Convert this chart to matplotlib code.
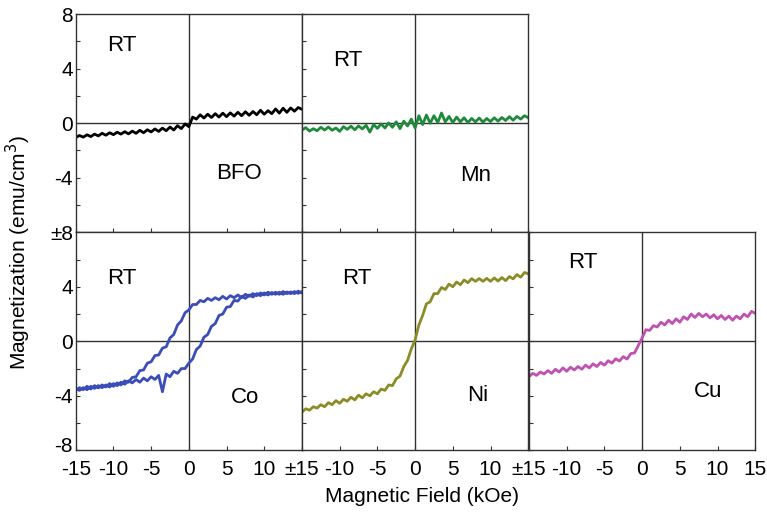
import matplotlib
matplotlib.use('Agg')
import matplotlib.pyplot as plt
from matplotlib.transforms import ScaledTranslation

plt.rcParams['font.family'] = ['Liberation Sans', 'DejaVu Sans']

# field sweep (kOe)
field = [-15.0, -14.5, -14.0, -13.5, -13.0, -12.5, -12.0, -11.5, -11.0, -10.5,
         -10.0, -9.5, -9.0, -8.5, -8.0, -7.5, -7.0, -6.5, -6.0, -5.5,
         -5.0, -4.5, -4.0, -3.5, -3.0, -2.5, -2.0, -1.5, -1.0, -0.5,
         0.0, 0.5, 1.0, 1.5, 2.0, 2.5, 3.0, 3.5, 4.0, 4.5,
         5.0, 5.5, 6.0, 6.5, 7.0, 7.5, 8.0, 8.5, 9.0, 9.5,
         10.0, 10.5, 11.0, 11.5, 12.0, 12.5, 13.0, 13.5, 14.0, 14.5, 15.0]

# magnetization (emu/cm^3)
m_bfo = [-1.05, -0.90, -1.02, -0.85, -0.98, -0.80, -0.93, -0.74, -0.88, -0.70,
         -0.84, -0.66, -0.80, -0.62, -0.78, -0.58, -0.74, -0.52, -0.70, -0.48,
         -0.64, -0.42, -0.60, -0.36, -0.55, -0.28, -0.50, -0.18, -0.40, -0.05,
         -0.25, 0.45, 0.30, 0.62, 0.38, 0.66, 0.42, 0.70, 0.45, 0.74,
         0.48, 0.76, 0.52, 0.80, 0.55, 0.84, 0.58, 0.86, 0.62, 0.95,
         0.66, 0.92, 0.70, 1.05, 0.74, 1.10, 0.80, 1.12, 0.88, 1.15, 1.02]

m_mn = [-0.50, -0.32, -0.58, -0.40, -0.55, -0.30, -0.50, -0.28, -0.52, -0.35,
        -0.60, -0.25, -0.45, -0.22, -0.48, -0.20, -0.42, -0.15, -0.65, -0.10,
        -0.38, -0.05, -0.35, 0.02, -0.30, 0.10, -0.40, 0.15, -0.20, 0.30,
        -0.35, 0.55, -0.10, 0.60, 0.00, 0.55, 0.05, 0.75, 0.10, 0.50,
        0.05, 0.45, 0.10, 0.40, 0.05, 0.35, 0.10, 0.38, 0.08, 0.35,
        0.12, 0.40, 0.15, 0.42, 0.20, 0.48, 0.22, 0.50, 0.30, 0.55, 0.40]

m_co_down = [-3.60, -3.40, -3.55, -3.30, -3.50, -3.25, -3.42, -3.20, -3.35, -3.10,
             -3.30, -3.05, -3.20, -2.90, -3.00, -2.65, -2.60, -2.15, -2.10, -1.60,
             -1.50, -1.05, -1.00, -0.50, -0.40, 0.25, 0.50, 1.20, 1.50, 2.10,
             2.30, 2.70, 2.70, 3.00, 2.90, 3.15, 3.00, 3.20, 3.05, 3.30,
             3.10, 3.35, 3.20, 3.40, 3.20, 3.45, 3.30, 3.50, 3.35, 3.55,
             3.40, 3.60, 3.45, 3.60, 3.45, 3.65, 3.50, 3.62, 3.50, 3.68, 3.55]

m_co_up = [-3.45, -3.60, -3.40, -3.55, -3.30, -3.45, -3.25, -3.40, -3.20, -3.35,
           -3.10, -3.25, -3.00, -3.15, -2.90, -3.05, -2.80, -3.00, -2.70, -2.90,
           -2.60, -2.80, -2.50, -3.70, -2.40, -2.60, -2.20, -2.35, -2.00, -2.00,
           -1.60, -1.30, -0.60, -0.35, 0.30, 0.50, 1.10, 1.30, 1.90, 2.00,
           2.50, 2.55, 3.00, 2.95, 3.30, 3.15, 3.40, 3.25, 3.50, 3.35,
           3.55, 3.40, 3.58, 3.45, 3.60, 3.45, 3.62, 3.50, 3.65, 3.52, 3.65]

m_ni = [-5.20, -4.95, -5.05, -4.80, -4.90, -4.65, -4.80, -4.50, -4.65, -4.35,
        -4.55, -4.25, -4.40, -4.10, -4.30, -3.95, -4.15, -3.85, -4.00, -3.70,
        -3.85, -3.50, -3.60, -3.20, -3.25, -2.75, -2.55, -1.85, -1.40, -0.55,
        0.10, 1.20, 1.90, 2.75, 2.90, 3.50, 3.50, 3.95, 3.80, 4.20,
        4.00, 4.35, 4.15, 4.50, 4.30, 4.60, 4.40, 4.60, 4.40, 4.62,
        4.40, 4.65, 4.42, 4.68, 4.45, 4.75, 4.58, 4.90, 4.70, 5.05, 4.95]

m_cu = [-2.60, -2.35, -2.50, -2.25, -2.40, -2.15, -2.35, -2.05, -2.25, -1.95,
        -2.20, -1.90, -2.10, -1.85, -2.05, -1.75, -1.95, -1.65, -1.85, -1.55,
        -1.75, -1.42, -1.60, -1.28, -1.45, -1.12, -1.30, -0.90, -0.85, -0.30,
        0.25, 0.85, 0.80, 1.15, 1.05, 1.40, 1.20, 1.55, 1.30, 1.65,
        1.40, 1.80, 1.60, 2.00, 1.75, 2.05, 1.80, 2.00, 1.72, 1.95,
        1.65, 1.90, 1.60, 1.85, 1.55, 1.85, 1.65, 2.00, 1.80, 2.20, 2.05]

fig = plt.figure(figsize=(7.67, 5.15), dpi=100)

W, H = 0.295, 0.4235
left_x = [0.0987, 0.3937, 0.6897]
top_y, bot_y = 0.549, 0.1255

xt = [-15, -10, -5, 0, 5, 10, 15]
yt = [-8, -6, -4, -2, 0, 2, 4, 6, 8]


def panel(x0, y0, curves, name, rt_pos, name_pos, xlabels=None, ylabels=None):
    ax = fig.add_axes([x0, y0, W, H])
    for m, c in curves:
        ax.plot(field, m, color=c, lw=2.0)
    ax.axhline(0, color='#333333', lw=1.0, zorder=0)
    ax.axvline(0, color='#333333', lw=1.0, zorder=0)
    ax.set_xlim(-15, 15)
    ax.set_ylim(-8, 8)
    ax.set_xticks(xt)
    ax.set_yticks(yt)
    ax.tick_params(direction='in', length=3, width=0.8, color='#333333',
                   labelsize=15, pad=2)
    ax.tick_params(axis='x', pad=7)
    ax.set_xticklabels(xlabels if xlabels else [''] * len(xt))
    ax.set_yticklabels(ylabels if ylabels else [''] * len(yt))
    for s in ax.spines.values():
        s.set_color('#333333')
        s.set_linewidth(1.0)
    ax.text(rt_pos[0], rt_pos[1], 'RT', fontsize=16, ha='center', va='center')
    ax.text(name_pos[0], name_pos[1], name, fontsize=16, ha='center', va='center')
    return ax


top_ylab = ['', '', '-4', '', '0', '', '4', '', '8']
bot_ylab = ['-8', '', '-4', '', '0', '', '4', '', '\u00b18']

panel(left_x[0], top_y, [(m_bfo, 'black')], 'BFO', (-8.9, 5.7), (6.6, -3.7),
      ylabels=top_ylab)
panel(left_x[1], top_y, [(m_mn, '#1f8a3c')], 'Mn', (-8.9, 4.6), (8.0, -3.85))
ax_co = panel(left_x[0], bot_y, [(m_co_down, '#3a4db8'), (m_co_up, '#3a4db8')], 'Co',
              (-8.9, 4.6), (7.5, -4.1),
              xlabels=['-15', '-10', '-5', '0', '5', '10', '\u00b115'],
              ylabels=bot_ylab)
# nudge the bottom "-8" up a little so it clears the "-15" below
lab = ax_co.get_yticklabels()[0]
lab.set_transform(lab.get_transform() + ScaledTranslation(0, 4 / 72, fig.dpi_scale_trans))
panel(left_x[1], bot_y, [(m_ni, '#8c8c26')], 'Ni', (-7.7, 4.6), (8.3, -4.0),
      xlabels=['', '-10', '-5', '0', '5', '10', '\u00b115'])
panel(left_x[2], bot_y, [(m_cu, '#c150b3')], 'Cu', (-7.9, 5.8), (8.8, -3.65),
      xlabels=['', '-10', '-5', '0', '5', '10', '15'])

fig.text(0.024, 0.51, 'Magnetization (emu/cm$^3$)', rotation=90, fontsize=15,
         ha='center', va='center')
fig.text(0.55, 0.035, 'Magnetic Field (kOe)', fontsize=15, ha='center', va='center')

fig.savefig('out.png', dpi=100)
